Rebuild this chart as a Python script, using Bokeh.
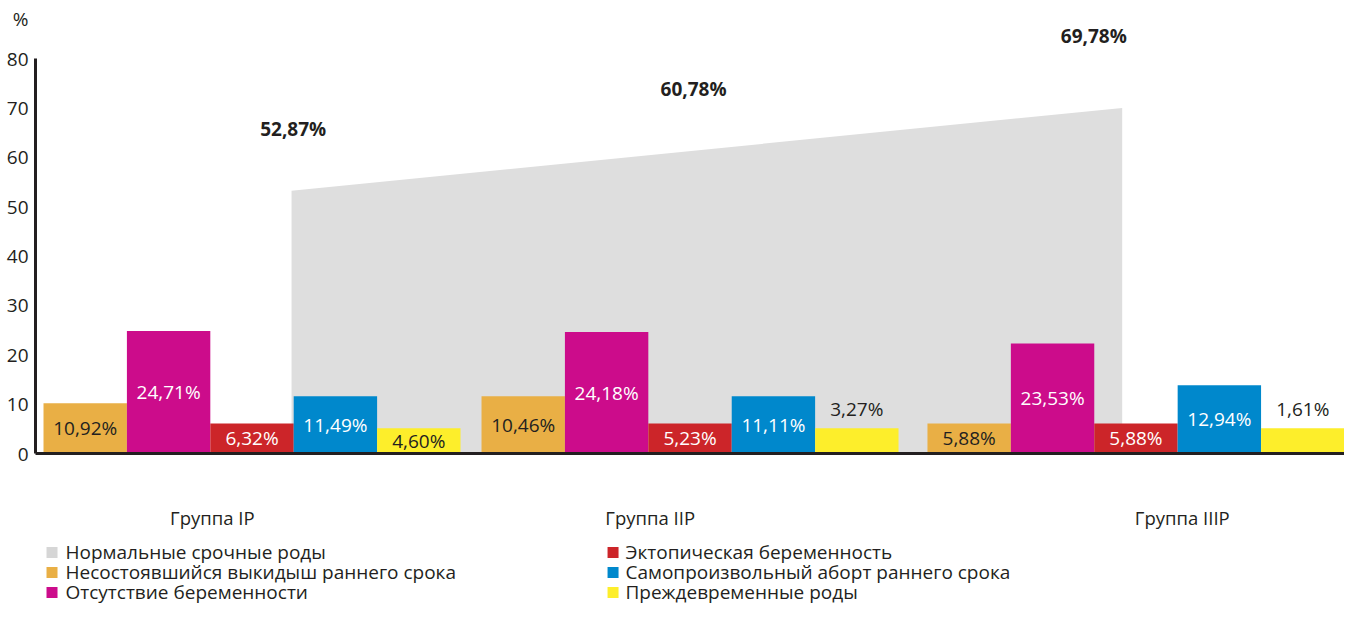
from bokeh.plotting import figure
from bokeh.models import Range1d, FixedTicker, ColumnDataSource
from bokeh.core.properties import value
from bokeh.embed import file_html
from bokeh.resources import INLINE

# ---------------- data ----------------
groups = ["Группа IP", "Группа IIP", "Группа IIIP"]
normal_name = "Нормальные срочные роды"
series_names = ["Несостоявшийся выкидыш раннего срока", "Отсутствие беременности",
                "Эктопическая беременность", "Самопроизвольный аборт раннего срока",
                "Преждевременные роды"]
# bar heights as drawn (%)
miscarriage = [10.2, 11.6, 6.1]
no_pregnancy = [24.8, 24.6, 22.3]
ectopic = [6.1, 6.1, 6.1]
spontaneous = [11.6, 11.6, 13.8]
preterm = [5.1, 5.1, 5.1]
# printed value labels
miscarriage_lbl = ["10,92%", "10,46%", "5,88%"]
no_pregnancy_lbl = ["24,71%", "24,18%", "23,53%"]
ectopic_lbl = ["6,32%", "5,23%", "5,88%"]
spontaneous_lbl = ["11,49%", "11,11%", "12,94%"]
preterm_lbl = ["4,60%", "3,27%", "1,61%"]
# normal term births (grey area, drawn edges) and printed labels
normal_vals = [53.2, 70.0]
normal_lbl = ["52,87%", "60,78%", "69,78%"]
y_ticks = [0, 10, 20, 30, 40, 50, 60, 70, 80]
unit_label = "%"

# ---------------- styling / layout ----------------
colors = ["#E9AF45", "#CC0C8B", "#CC2529", "#0088CC", "#FDEE2B"]
label_colors = ["#231F20", "white", "white", "white", "#231F20"]
grey = "#DEDEDE"
legend_grey = "#D6D6D6"
dark = "#231F20"
FONT = "Open Sans"

series_vals = [miscarriage, no_pregnancy, ectopic, spontaneous, preterm]
series_lbls = [miscarriage_lbl, no_pregnancy_lbl, ectopic_lbl, spontaneous_lbl, preterm_lbl]
label_pos = [["in"] * 3, ["in"] * 3, ["in"] * 3, ["in"] * 3, ["in", "out", "out"]]

BW = 83.4                               # px per bar
group_start = [0.096, 5.348, 10.695]    # in bar-width units
area_x = [3.07, 13.03]
normal_lbl_x = [3.09, 7.89, 12.69]
normal_lbl_y = [65.8, 73.9, 84.5]
group_lbl_x = [2.12, 7.37, 13.75]
group_lbl_y = -12.96
leg_sq_x = [0.198, 6.925]
leg_txt_x = [0.36, 7.074]
leg_row_y = [-20.05, -24.10, -28.15]

W, H = 1344, 607
LEFT = 33
x0 = -2 / BW
p = figure(width=W, height=H, output_backend="svg", toolbar_location=None,
           x_range=Range1d(x0, x0 + (W - LEFT) / BW), y_range=Range1d(-31.19, 91.75),
           x_axis_location=None, min_border_left=LEFT, min_border_right=0,
           min_border_top=0, min_border_bottom=0)
p.xgrid.visible = False
p.ygrid.visible = False
p.outline_line_color = None
p.background_fill_color = "white"
p.border_fill_color = "white"

yax = p.yaxis[0]
yax.ticker = FixedTicker(ticks=y_ticks + [88])
yax.major_label_overrides = {88: unit_label}
yax.bounds = (0, 88)
yax.axis_line_color = None
yax.major_tick_line_color = None
yax.minor_tick_line_color = None
yax.major_tick_in = 0
yax.major_tick_out = 0
yax.major_label_text_font = FONT
yax.major_label_text_font_size = "19px"
yax.major_label_text_color = dark
yax.major_label_standoff = 5

# grey area (normal term births)
area = p.varea(x=area_x, y1=[0, 0], y2=normal_vals, fill_color=grey)

# bars + value labels
for j, (vals, lbls) in enumerate(zip(series_vals, series_lbls)):
    xs = [group_start[g] + j + 0.5 for g in range(3)]
    src = ColumnDataSource(dict(x=xs, top=vals))
    p.vbar(x="x", top="top", width=1.0, source=src, fill_color=colors[j], line_color=None)
    ys = [v / 2 if pos == "in" else v + 4.0 for v, pos in zip(vals, label_pos[j])]
    cols = [label_colors[j] if pos == "in" else dark for pos in label_pos[j]]
    p.text(x=xs, y=ys, text=lbls, text_color=cols, text_font=value(FONT),
           text_font_size="19px", text_align="center", text_baseline="middle")

# axis line and baseline
p.segment(x0=[0], y0=[0], x1=[0], y1=[80], line_width=3, line_color=dark)
p.segment(x0=[0], y0=[0], x1=[x0 + (W - LEFT) / BW], y1=[0], line_width=3, line_color=dark)

# bold total labels
p.text(x=normal_lbl_x, y=normal_lbl_y, text=normal_lbl, text_color=dark,
       text_font=value(FONT), text_font_size="19px", text_font_style="bold",
       text_align="center", text_baseline="middle")

# group labels
p.text(x=group_lbl_x, y=[group_lbl_y] * 3, text=groups, text_color=dark,
       text_font=value(FONT), text_font_size="18.5px",
       text_align="center", text_baseline="middle")

# legend (two columns, three rows)
leg_names = [normal_name, series_names[0], series_names[1],
             series_names[2], series_names[3], series_names[4]]
leg_colors = [legend_grey, colors[0], colors[1], colors[2], colors[3], colors[4]]
sq_x = [leg_sq_x[i // 3] for i in range(6)]
tx_x = [leg_txt_x[i // 3] for i in range(6)]
row_y = [leg_row_y[i % 3] for i in range(6)]
p.scatter(x=sq_x, y=row_y, marker="square", size=11, fill_color=leg_colors, line_color=None)
p.text(x=tx_x, y=row_y, text=leg_names, text_color=dark, text_font=value(FONT),
       text_font_size="19px", text_align="left", text_baseline="middle")

open("out.html", "w").write(file_html(p, INLINE))
